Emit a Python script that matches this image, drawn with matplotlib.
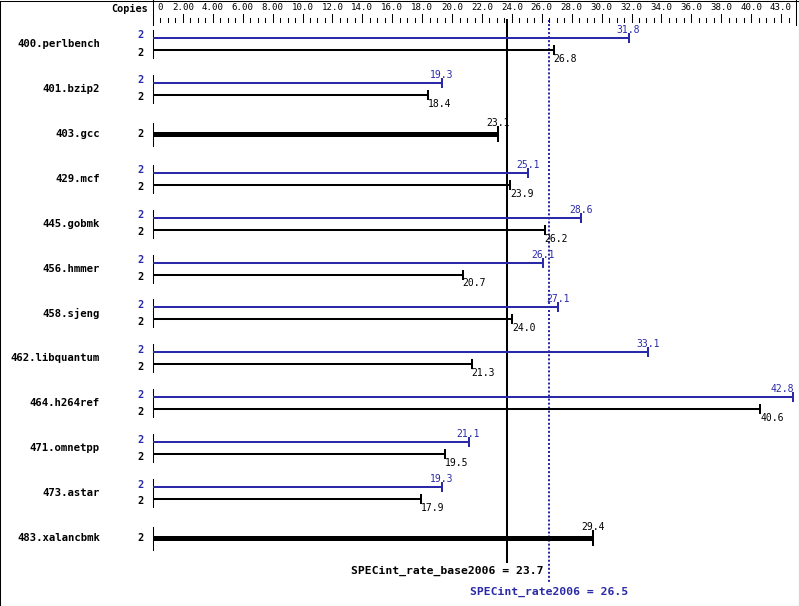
import matplotlib
matplotlib.use("Agg")
import matplotlib.pyplot as plt

# ---------------- data ----------------
benchmarks = ["400.perlbench", "401.bzip2", "403.gcc", "429.mcf", "445.gobmk",
              "456.hmmer", "458.sjeng", "462.libquantum", "464.h264ref",
              "471.omnetpp", "473.astar", "483.xalancbmk"]
base_values = [26.8, 18.4, 23.1, 23.9, 26.2, 20.7, 24.0, 21.3, 40.6, 19.5, 17.9, 29.4]
peak_values = [31.8, 19.3, None, 25.1, 28.6, 26.1, 27.1, 33.1, 42.8, 21.1, 19.3, None]
base_copies = [2] * 12
peak_copies = [2, 2, None, 2, 2, 2, 2, 2, 2, 2, 2, None]
tick_values = list(range(0, 42, 2))
tick_labels = ["0", "2.00", "4.00", "6.00", "8.00"] + ["%.1f" % v for v in range(10, 42, 2)]
axis_max = 43.0
axis_max_label = "43.0"
base_score = 23.7
peak_score = 26.5
base_score_label = "SPECint_rate_base2006 = 23.7"
peak_score_label = "SPECint_rate2006 = 26.5"

BLUE = "#2a2aa8"
BLACK = "#000000"
MONO = "DejaVu Sans Mono"

# ---------------- layout (pixels) ----------------
W, H = 799, 606
X0_PIX = 153          # pixel of value 0
XMAX_PIX = 796        # pixel of axis_max
PX = axis_max / (XMAX_PIX - X0_PIX)   # data units per pixel


def X(pix):
    return (pix - X0_PIX) * PX


ROW0 = 44
ROW = 44.9
BAR_OFF = 6
LW = 1.45      # ~2px
LW_THICK = 3.6 # ~5px

fig = plt.figure(figsize=(W / 100, H / 100), dpi=100)
ax = fig.add_axes([0, 0, 1, 1])
ax.set_xlim(X(0), X(W))
ax.set_ylim(H, 0)
ax.axis("off")

# outer border
ax.plot([X(0.5), X(W - 0.5), X(W - 0.5), X(0.5), X(0.5)],
        [0.5, 0.5, H - 0.5, H - 0.5, 0.5], color=BLACK, lw=0.75,
        solid_joinstyle="miter")

# header
ax.text(X(148), 9, "Copies", family=MONO, weight="bold", fontsize=7.3,
        ha="right", va="center", color=BLACK)
ax.plot([0, 0], [0, 25], color=BLACK, lw=0.75)
ax.plot([axis_max, axis_max], [0, 25], color=BLACK, lw=0.75)
minor = [v * 0.5 for v in range(1, int(axis_max * 2))]
for m in minor:
    if m % 2 == 0:
        ax.plot([m, m], [14, 22], color=BLACK, lw=0.75)
    else:
        ax.plot([m, m], [18, 22], color=BLACK, lw=0.75)
for v, lab in zip(tick_values, tick_labels):
    if v == 0:
        ax.text(v + 4 * PX, 8, lab, family=MONO, fontsize=6.6, ha="left",
                va="center", color=BLACK)
    else:
        ax.text(v, 8, lab, family=MONO, fontsize=6.6, ha="center",
                va="center", color=BLACK)
ax.text(axis_max - 4 * PX, 8, axis_max_label, family=MONO, fontsize=6.6,
        ha="right", va="center", color=BLACK)

# reference lines
ax.plot([base_score, base_score], [20, 562], color=BLACK, lw=LW, zorder=1)
ax.plot([peak_score, peak_score], [20, 583], color=BLUE, lw=LW,
        dashes=(1, 1), zorder=1)
ax.text(peak_score - 6 * PX, 571, base_score_label, family=MONO,
        weight="bold", fontsize=8.2, ha="right", va="center", color=BLACK)
ax.text(peak_score, 592, peak_score_label, family=MONO, weight="bold",
        fontsize=8.2, ha="center", va="center", color=BLUE)

# bars
for i, name in enumerate(benchmarks):
    yc = ROW0 + i * ROW
    ax.text(X(100), yc, name, family=MONO, weight="bold", fontsize=7.7,
            ha="right", va="center", color=BLACK)
    b = base_values[i]
    p = peak_values[i]
    if p is None:
        ax.plot([0, 0], [yc - 11, yc + 12], color=BLACK, lw=0.75)
        ax.plot([0, b], [yc, yc], color=BLACK, lw=LW_THICK,
                solid_capstyle="butt", zorder=3)
        ax.plot([b, b], [yc - 7, yc + 7], color=BLACK, lw=LW, zorder=3)
        ax.text(X(140), yc, str(base_copies[i]),
                family=MONO, weight="bold", fontsize=7.5, ha="center",
                va="center", color=BLACK)
        ax.text(b, yc - 6, "%.1f" % b, family=MONO, fontsize=7,
                ha="center", va="bottom", color=BLACK)
    else:
        yp = yc - BAR_OFF
        yb = yc + BAR_OFF
        ax.plot([0, 0], [yc - 14, yc + 14], color=BLACK, lw=0.75)
        ax.plot([0, p], [yp, yp], color=BLUE, lw=LW, solid_capstyle="butt",
                zorder=3)
        ax.plot([p, p], [yp - 4, yp + 4], color=BLUE, lw=LW, zorder=3)
        ax.plot([0, b], [yb, yb], color=BLACK, lw=LW, solid_capstyle="butt",
                zorder=3)
        ax.plot([b, b], [yb - 4, yb + 4], color=BLACK, lw=LW, zorder=3)
        ax.text(X(140), yc - 8.5, str(peak_copies[i]), family=MONO,
                weight="bold", fontsize=7.5, ha="center", va="center",
                color=BLUE)
        ax.text(X(140), yc + 8.5, str(base_copies[i]), family=MONO,
                weight="bold", fontsize=7.5, ha="center", va="center",
                color=BLACK)
        if p + 12 * PX > X(W - 4):
            ax.text(X(W - 5), yp - 3, "%.1f" % p, family=MONO, fontsize=7,
                    ha="right", va="bottom", color=BLUE)
        else:
            ax.text(p, yp - 3, "%.1f" % p, family=MONO, fontsize=7,
                    ha="center", va="bottom", color=BLUE)
        ax.text(b, yb + 4, "%.1f" % b, family=MONO, fontsize=7,
                ha="left", va="top", color=BLACK)

fig.savefig("out.png", dpi=100)
